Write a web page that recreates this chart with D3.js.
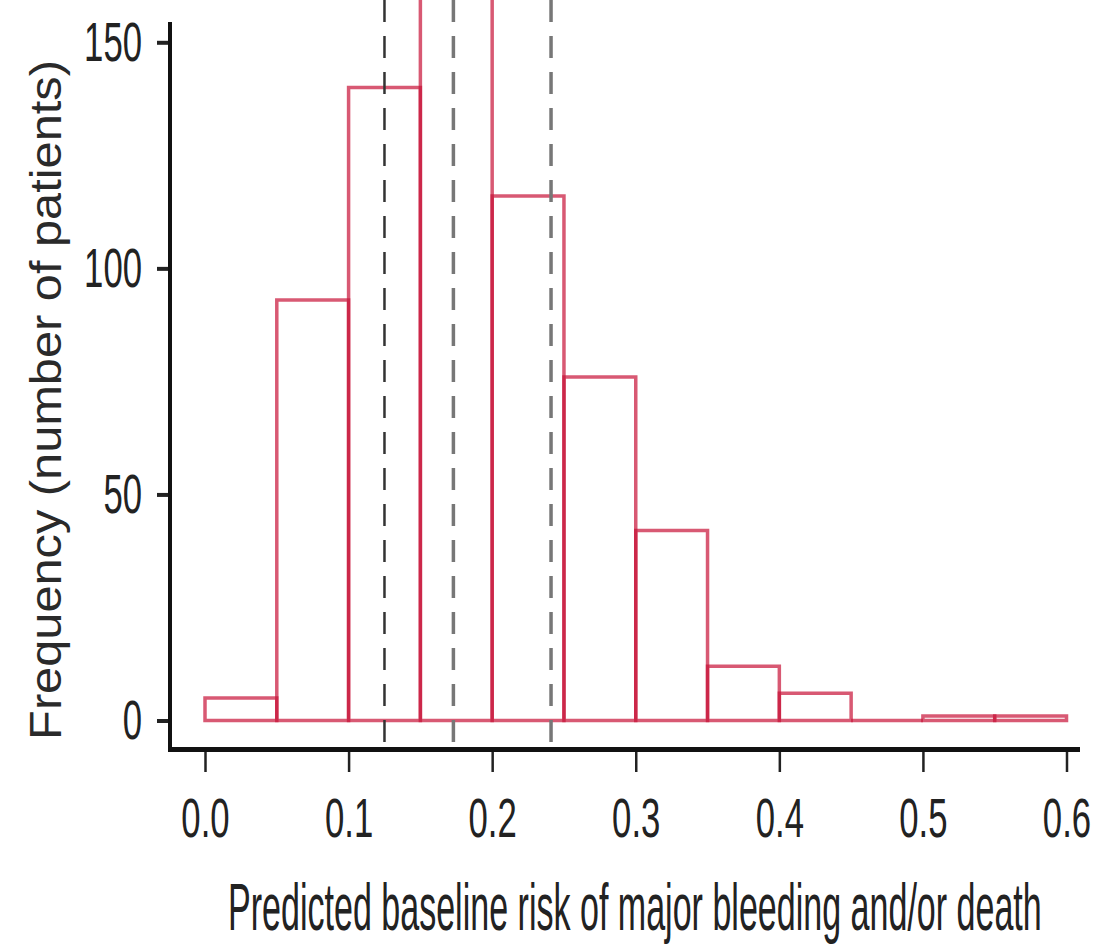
<!DOCTYPE html>
<html>
<head>
<meta charset="utf-8">
<script src="https://cdn.jsdelivr.net/npm/d3@7"></script>
<style>
  body { margin: 0; background: #fff; }
  svg { display: block; background: #fff; }
  text { font-family: "Liberation Sans", Arial, sans-serif; fill: #222; }
</style>
</head>
<body>
<svg width="1114" height="952"></svg>
<script>
// histogram bins (left edges) and counts
const binStarts = [0.00, 0.05, 0.10, 0.15, 0.20, 0.25, 0.30, 0.35, 0.40, 0.45, 0.50, 0.55];
const binWidth = 0.05;
const counts = [5, 93, 140, 170, 116, 76, 42, 12, 6, 0, 1, 1];
// dashed reference lines
const cutoffs = [0.125, 0.173, 0.241];
const xTicks = [0.0, 0.1, 0.2, 0.3, 0.4, 0.5, 0.6];
const yTicks = [0, 50, 100, 150];

const svg = d3.select("svg");
const squeeze = 0.62; // condensed tick labels

const x = d3.scaleLinear().domain([0, 0.6]).range([205, 1066.5]);
const y = d3.scaleLinear().domain([0, 150]).range([720.5, 42.3]);

const bins = binStarts.map((s, i) => ({ start: s, count: counts[i] }));

// Draw bars as outline paths (so empty bins still show their base)
svg.append("g")
  .selectAll("path")
  .data(bins)
  .join("path")
  .attr("d", d => {
    const x0 = x(d.start), x1 = x(d.start + binWidth);
    const y0 = y(0), y1 = y(d.count);
    return `M${x0},${y0}V${y1}H${x1}V${y0}Z`;
  })
  .style("fill", "none")
  .style("stroke", "#c81238")
  .style("stroke-opacity", 0.7)
  .style("stroke-width", 3.5);

// Dashed lines
svg.append("g")
  .selectAll("line")
  .data(cutoffs)
  .join("line")
  .attr("x1", d => x(d))
  .attr("x2", d => x(d))
  .attr("y1", 0)
  .attr("y2", 749)
  .style("stroke", (d, i) => i === 0 ? "#333" : "#777")
  .style("stroke-width", (d, i) => i === 0 ? 2.5 : 3.5)
  .style("stroke-dasharray", "22,14");

// Y axis
const yAxis = svg.append("g")
  .attr("transform", "translate(170,0)")
  .call(d3.axisLeft(y).tickValues(yTicks).tickSize(13).tickPadding(15).tickFormat(d3.format("d")));
yAxis.select(".domain").remove();
yAxis.selectAll(".tick line").style("stroke", "#222").style("stroke-width", 4);
yAxis.selectAll(".tick text")
  .attr("x", -28 / squeeze)
  .attr("transform", `scale(${squeeze},1)`)
  .style("font-size", "56px")
  .style("fill", "#222");

// X axis
const xAxis = svg.append("g")
  .attr("transform", "translate(0,750)")
  .call(d3.axisBottom(x).tickValues(xTicks).tickSize(22).tickFormat(d3.format(".1f")));
xAxis.select(".domain").remove();
xAxis.selectAll(".tick line").style("stroke", "#222").style("stroke-width", 2.5);
xAxis.selectAll(".tick text")
  .attr("y", 87)
  .attr("dy", 0)
  .attr("transform", `scale(${squeeze},1)`)
  .style("font-size", "56px")
  .style("fill", "#222");

// Axis lines
svg.append("line")
  .attr("x1", 170).attr("x2", 170).attr("y1", 22).attr("y2", 752)
  .style("stroke", "#111").style("stroke-width", 4);
svg.append("line")
  .attr("x1", 168).attr("x2", 1080).attr("y1", 749.5).attr("y2", 749.5)
  .style("stroke", "#111").style("stroke-width", 5);

// Axis titles, squeezed to the width they take in the figure
const xTitle = svg.append("text")
  .style("font-size", "66px")
  .text("Predicted baseline risk of major bleeding and/or death");
const xScaleW = 814 / xTitle.node().getComputedTextLength();
xTitle.attr("transform", `translate(228,930) scale(${xScaleW},1)`);

const yTitle = svg.append("text")
  .attr("text-anchor", "middle")
  .style("font-size", "45px")
  .style("fill", "#2a2a2a")
  .text("Frequency (number of patients)");
const yScaleW = 680 / yTitle.node().getComputedTextLength();
yTitle.attr("transform", `translate(61,400) rotate(-90) scale(${yScaleW},1)`);
</script>
</body>
</html>
